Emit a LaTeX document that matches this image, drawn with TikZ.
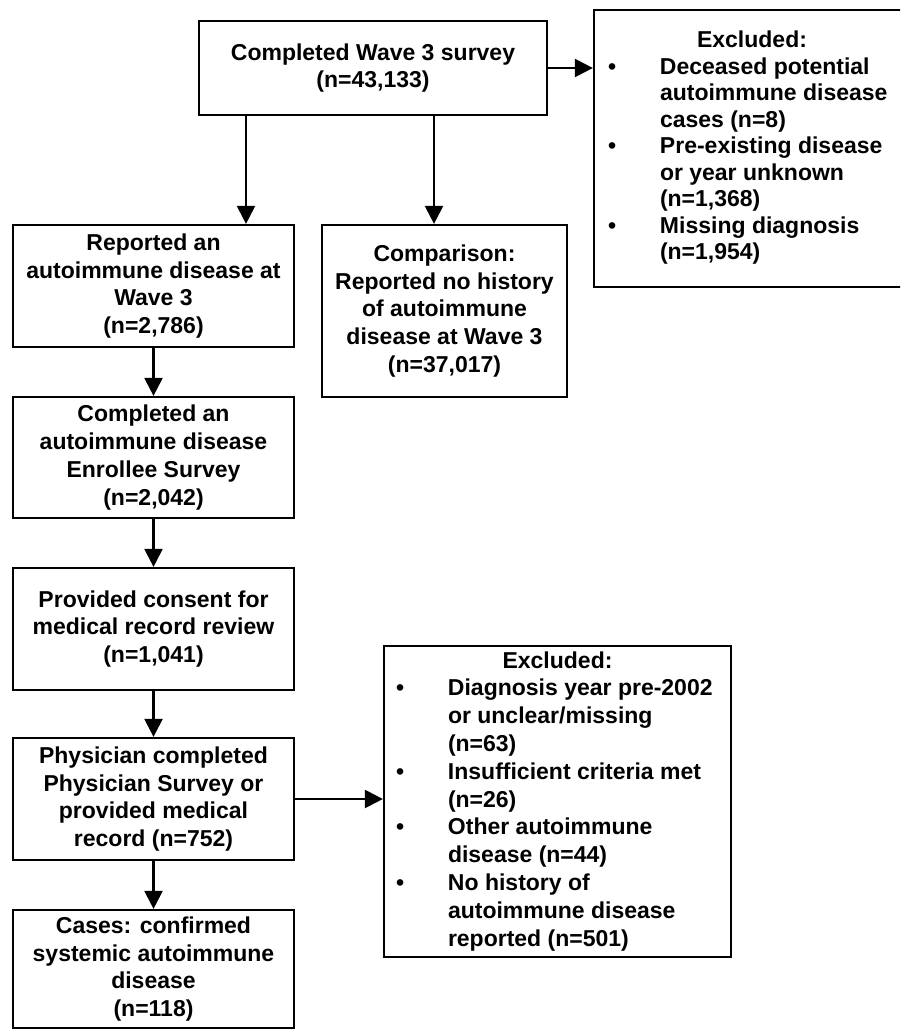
\documentclass[tikz,border=0pt]{standalone}
\usepackage{fontspec}
\setmainfont{Liberation Sans}
\usepackage{array}
\usetikzlibrary{arrows.meta}
\begin{document}
\begin{tikzpicture}[x=1pt,y=-1pt,
  box/.style={draw, line width=2.2pt, inner sep=0pt, align=center,
    font=\bfseries\fontsize{23}{27.8}\selectfont},
  colbox/.style={box, minimum width=281pt},
  arr/.style={line width=2.2pt, -{Triangle[length=18pt,width=18pt]}}]
\useasboundingbox (0,0) rectangle (900,1030);
\clip (0,0) rectangle (900,1030);

\node[box, minimum width=348pt, minimum height=94pt] (b1) at (373,68)
  {Completed Wave 3 survey\\(n=43,133)};

\node[box, minimum width=340pt, minimum height=277pt,
  font=\bfseries\fontsize{23}{26.5}\selectfont] (ex1) at (764,148.5)
  {\begin{tabular}{@{}p{52pt}@{}p{236pt}@{}}
   \multicolumn{2}{@{}c@{}}{Excluded:}\\
   \textbullet & Deceased potential\\
               & autoimmune disease\\
               & cases (n=8)\\
   \textbullet & Pre-existing disease\\
               & or year unknown\\
               & (n=1,368)\\
   \textbullet & Missing diagnosis\\
               & (n=1,954)
   \end{tabular}\hspace*{24pt}};

\node[colbox, minimum height=122pt] (rep) at (153.5,286)
  {Reported an\\autoimmune disease at\\Wave 3\\(n=2,786)};

\node[box, minimum width=245pt, minimum height=172pt] (cmp) at (444.5,311)
  {Comparison:\\Reported no history\\of autoimmune\\disease at Wave 3\\(n=37,017)};

\node[colbox, minimum height=121pt] (enr) at (153.5,457.5)
  {Completed an\\autoimmune disease\\Enrollee Survey\\(n=2,042)};

\node[colbox, minimum height=122pt] (prov) at (153.5,629)
  {Provided consent for\\medical record review\\(n=1,041)};

\node[colbox, minimum height=122pt] (phys) at (153.5,799)
  {Physician completed\\Physician Survey or\\provided medical\\record (n=752)};

\node[colbox, minimum height=118pt] (cases) at (153.5,969)
  {Cases: confirmed\\systemic autoimmune\\disease\\(n=118)};

\node[box, minimum width=347pt, minimum height=311pt] (ex2) at (557.5,801.5)
  {\begin{tabular}{@{}p{52pt}@{}p{271pt}@{}}
   \multicolumn{2}{@{}c@{}}{Excluded:}\\
   \textbullet & Diagnosis year pre-2002\\
               & or unclear/missing\\
               & (n=63)\\
   \textbullet & Insufficient criteria met\\
               & (n=26)\\
   \textbullet & Other autoimmune\\
               & disease (n=44)\\
   \textbullet & No history of\\
               & autoimmune disease\\
               & reported (n=501)
   \end{tabular}};

\draw[arr] (b1.south -| 246,0) -- (rep.north -| 246,0);
\draw[arr] (b1.south -| 434,0) -- (cmp.north -| 434,0);
\draw[arr] (b1.east) -- (b1.east -| ex1.west);
\draw[arr] (rep.south) -- (enr.north);
\draw[arr] (enr.south) -- (prov.north);
\draw[arr] (prov.south) -- (phys.north);
\draw[arr] (phys.south) -- (cases.north);
\draw[arr] (phys.east) -- (phys.east -| ex2.west);
\end{tikzpicture}
\end{document}
